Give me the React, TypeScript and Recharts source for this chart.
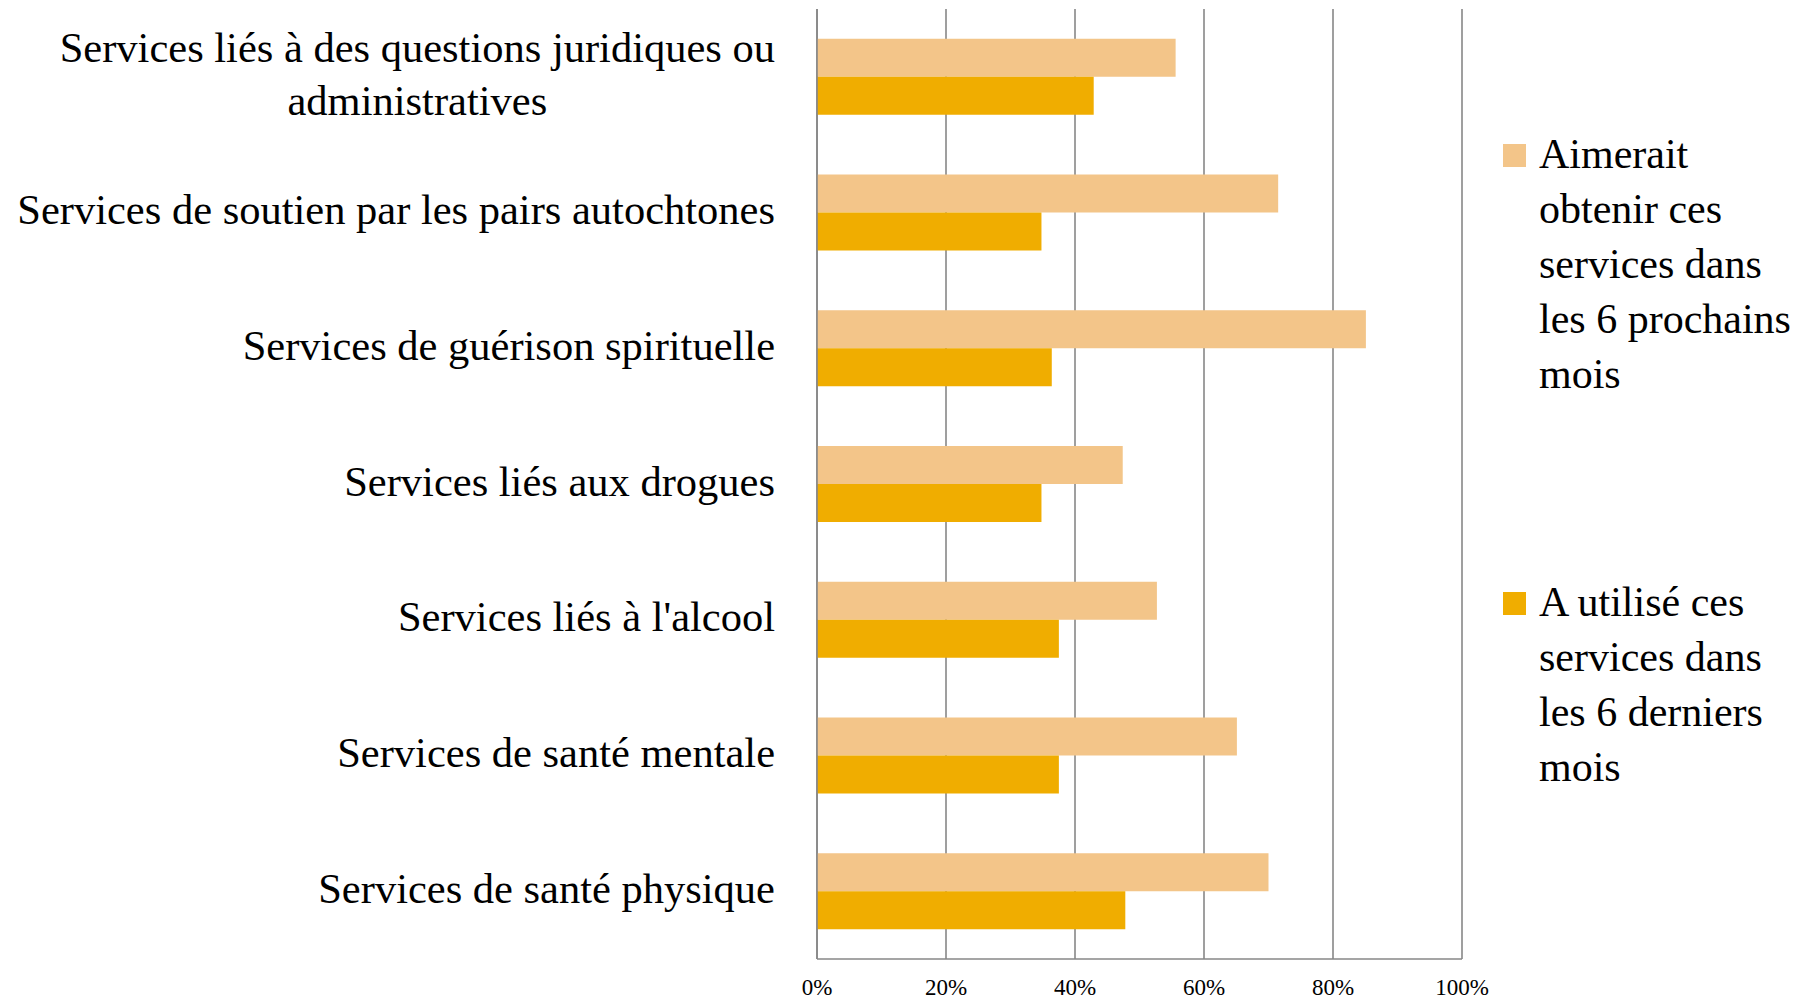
import React from 'react';
import { BarChart, Bar, XAxis, YAxis, CartesianGrid } from 'recharts';

const categories = [
  "Services liés à des questions juridiques ou\nadministratives",
  "Services de soutien par les pairs autochtones",
  "Services de guérison spirituelle",
  "Services liés aux drogues",
  "Services liés à l'alcool",
  "Services de santé mentale",
  "Services de santé physique",
];
const aimerait = [55.6, 71.5, 85.1, 47.4, 52.7, 65.1, 70.0];
const utilise = [42.9, 34.8, 36.4, 34.8, 37.5, 37.5, 47.8];
const xTicks = [0, 20, 40, 60, 80, 100];
const seriesNames = [
  "Aimerait obtenir ces services dans les 6 prochains mois",
  "A utilisé ces services dans les 6 derniers mois",
];
const legendLines = [
  ["Aimerait", "obtenir ces", "services dans", "les 6 prochains", "mois"],
  ["A utilisé ces", "services dans", "les 6 derniers", "mois"],
];
const colors = ["#F3C589", "#F0AD00"];

const data = categories.map((c, i) => ({ name: c, aimerait: aimerait[i], utilise: utilise[i] }));

const FONT = "'Liberation Serif', 'Times New Roman', serif";
const FS = 42.5;
const GRID = "#878787";

let ctx: CanvasRenderingContext2D | null = null;
const measure = (t: string) => {
  if (!ctx) ctx = document.createElement('canvas').getContext('2d');
  if (!ctx) return t.length * FS * 0.45;
  ctx.font = `${FS}px 'Liberation Serif'`;
  return ctx.measureText(t).width;
};

const YTick = (props: any) => {
  const { x, y, payload } = props;
  const lines = String(payload.value).split('\n');
  const lh = 53;
  const multi = lines.length > 1;
  const maxW = Math.max(...lines.map(measure));
  const y0 = y - 3 - ((lines.length - 1) * lh) / 2;
  return (
    <g>
      {lines.map((l, i) => (
        <text key={i} x={multi ? x - maxW / 2 : x} y={y0 + i * lh} textAnchor={multi ? 'middle' : 'end'}
          dominantBaseline="central" fontFamily={FONT} fontSize={FS} fill="#000">{l}</text>
      ))}
    </g>
  );
};

const XTick = (props: any) => {
  const { x, y, payload } = props;
  return (
    <text x={x} y={y} textAnchor="middle" dominantBaseline="central" fontFamily={FONT} fontSize={23} fill="#000">
      {payload.value + '%'}
    </text>
  );
};

const legendTops = [127, 575];

export default function App() {
  return (
    <div style={{ position: 'absolute', left: 0, top: 0, width: 1814, height: 999, background: '#fff' }}>
      <BarChart width={1814} height={999} data={data} layout="vertical"
        margin={{ top: 9, right: 352, bottom: 0, left: 0 }} barCategoryGap="22%" barGap={0}>
        <CartesianGrid horizontal={false} vertical={true} stroke={GRID} strokeWidth={1.6} />
        <XAxis type="number" domain={[0, 100]} ticks={xTicks} interval={0} axisLine={{ stroke: GRID, strokeWidth: 1.6 }}
          tickLine={false} tickSize={6} tickMargin={22} height={40} tick={<XTick />} />
        <YAxis type="category" dataKey="name" width={817} interval={0} axisLine={{ stroke: GRID, strokeWidth: 1.6 }}
          tickLine={false} tickSize={6} tickMargin={36} tick={<YTick />} />
        <Bar dataKey="aimerait" name={seriesNames[0]} fill={colors[0]} isAnimationActive={false} />
        <Bar dataKey="utilise" name={seriesNames[1]} fill={colors[1]} isAnimationActive={false} />
      </BarChart>
      {seriesNames.map((n, i) => (
        <div key={n} style={{ position: 'absolute', left: 1503, top: legendTops[i], display: 'flex', alignItems: 'flex-start' }}>
          <div style={{ width: 23, height: 23, background: colors[i], marginTop: 17, flexShrink: 0 }} />
          <div style={{ marginLeft: 13, fontFamily: FONT, fontSize: 42, lineHeight: '55px', color: '#000', whiteSpace: 'nowrap' }}>
            {legendLines[i].map((l, j) => <div key={j}>{l}</div>)}
          </div>
        </div>
      ))}
    </div>
  );
}
